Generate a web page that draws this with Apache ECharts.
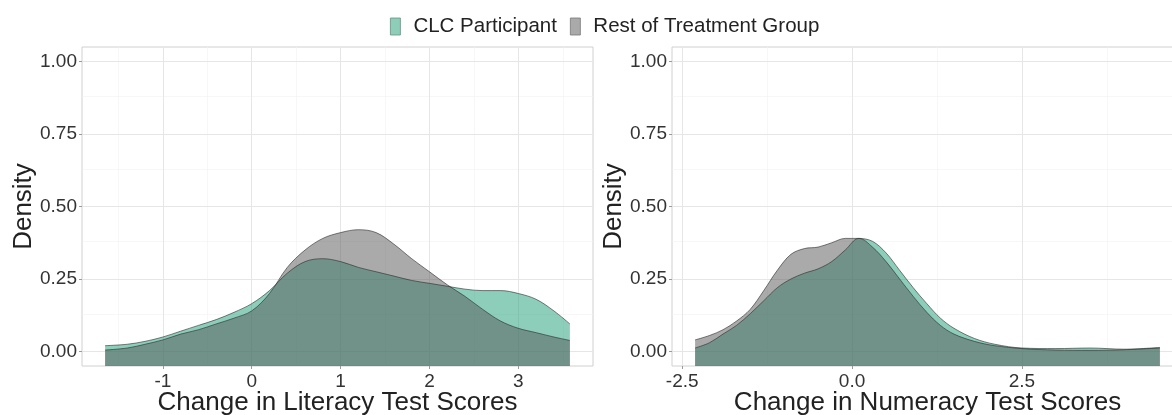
<!DOCTYPE html>
<html>
<head>
<meta charset="utf-8">
<script src="https://cdn.jsdelivr.net/npm/echarts@6/dist/echarts.min.js"></script>
<style>
html,body{margin:0;padding:0;background:#fff;}
#chart{width:1172px;height:415px;}
</style>
</head>
<body>
<div id="chart"></div>
<script>
// ---- Data ----
const seriesNames = ['CLC Participant', 'Rest of Treatment Group'];

// Literacy panel
const litX = [-1.65, -1.4, -1.2, -1.0, -0.8, -0.6, -0.4, -0.2, 0.0, 0.2, 0.4, 0.6, 0.8, 1.0, 1.2, 1.4, 1.6, 1.8, 2.0, 2.2, 2.4, 2.6, 2.8, 3.0, 3.2, 3.4, 3.58];
const litCLC = [0.02, 0.025, 0.035, 0.05, 0.07, 0.09, 0.11, 0.135, 0.165, 0.21, 0.27, 0.31, 0.32, 0.31, 0.29, 0.275, 0.26, 0.245, 0.235, 0.225, 0.215, 0.21, 0.21, 0.2, 0.18, 0.14, 0.095];
const litRest = [0.005, 0.012, 0.025, 0.04, 0.06, 0.075, 0.095, 0.115, 0.14, 0.2, 0.29, 0.35, 0.39, 0.41, 0.42, 0.41, 0.37, 0.32, 0.275, 0.23, 0.19, 0.145, 0.105, 0.08, 0.065, 0.05, 0.038];

// Numeracy panel
const numX = [-2.31, -2.1, -1.9, -1.7, -1.5, -1.3, -1.1, -0.9, -0.7, -0.5, -0.3, -0.1, 0.1, 0.3, 0.5, 0.7, 0.9, 1.1, 1.3, 1.5, 1.8, 2.1, 2.5, 3.0, 3.5, 4.0, 4.53];
const numCLC = [0.012, 0.03, 0.06, 0.09, 0.13, 0.175, 0.22, 0.25, 0.27, 0.285, 0.31, 0.35, 0.39, 0.38, 0.34, 0.28, 0.22, 0.165, 0.115, 0.08, 0.045, 0.025, 0.012, 0.01, 0.012, 0.008, 0.014];
const numRest = [0.04, 0.055, 0.075, 0.105, 0.145, 0.21, 0.28, 0.335, 0.355, 0.36, 0.375, 0.39, 0.39, 0.36, 0.31, 0.25, 0.19, 0.135, 0.09, 0.06, 0.035, 0.02, 0.01, 0.005, 0.004, 0.006, 0.012];

// Tick labels / breaks
const yTicks = [0, 0.25, 0.5, 0.75, 1.0];
const yMinor = [0.125, 0.375, 0.625, 0.875];
const litTicks = [-1, 0, 1, 2, 3];
const litMinor = [-1.5, -0.5, 0.5, 1.5, 2.5, 3.5];
const numTicks = [-2.5, 0, 2.5];
const numMinor = [-1.25, 1.25, 3.75];

const xTitles = ['Change in Literacy Test Scores', 'Change in Numeracy Test Scores'];
const yTitle = 'Density';

// ---- Styling ----
const FONT = "'Liberation Sans', Arial, Helvetica, sans-serif";
const clcFill = 'rgba(27,158,119,0.5)';
const restFill = 'rgba(85,85,85,0.5)';
const clcKey = '#8dceb9';
const restKey = '#aaaaaa';
const outline = 'rgba(40,40,40,0.75)';

const zip = (xs, ys) => xs.map((x, i) => [x, ys[i]]);

function gridSeries(idx, xMajor, xMinor) {
  const major = xMajor.map(v => ({xAxis: v})).concat(yTicks.map(v => ({yAxis: v})));
  const minor = xMinor.map(v => ({xAxis: v})).concat(yMinor.map(v => ({yAxis: v})));
  return [
    {type: 'line', xAxisIndex: idx, yAxisIndex: idx, data: [], z: 0, silent: true,
     markLine: {silent: true, z: 0, zlevel: 0, symbol: 'none', animation: false, label: {show: false},
       lineStyle: {color: '#f2f2f2', width: 0.6, type: 'solid'}, data: minor}},
    {type: 'line', xAxisIndex: idx, yAxisIndex: idx, data: [], z: 0, silent: true,
     markLine: {silent: true, z: 0, zlevel: 0, symbol: 'none', animation: false, label: {show: false},
       lineStyle: {color: '#e6e6e6', width: 1, type: 'solid'}, data: major}}
  ];
}

function densitySeries(idx, name, xs, ys, fill) {
  return {
    type: 'line', name: name, xAxisIndex: idx, yAxisIndex: idx,
    data: zip(xs, ys), smooth: 0.35, showSymbol: false, symbol: 'none', z: 3,
    lineStyle: {color: outline, width: 0.8},
    itemStyle: {color: fill},
    areaStyle: {color: fill, opacity: 1, origin: 'start'},
    animation: false
  };
}

function xAxisDef(idx, min, max, ticks, title) {
  return {
    type: 'value', gridIndex: idx, min: min, max: max, position: 'bottom',
    axisLine: {show: false, onZero: false},
    splitLine: {show: false},
    axisTick: {show: true, length: 3, customValues: ticks, lineStyle: {color: '#9a9a9a'}},
    axisLabel: {customValues: ticks, color: '#333', fontSize: 19, fontFamily: FONT, margin: 6,
      formatter: v => (idx === 1 ? v.toFixed(1) : String(v))},
    name: title, nameLocation: 'middle', nameGap: 23, nameMoveOverlap: false,
    nameTextStyle: {color: '#222', fontSize: 26, fontFamily: FONT, verticalAlign: 'top', lineHeight: 28}
  };
}

function yAxisDef(idx) {
  return {
    type: 'value', gridIndex: idx, min: -0.05, max: 1.05, position: 'left',
    axisLine: {show: false, onZero: false},
    splitLine: {show: false},
    axisTick: {show: true, length: 3, customValues: yTicks, lineStyle: {color: '#9a9a9a'}},
    axisLabel: {customValues: yTicks, color: '#333', fontSize: 19, fontFamily: FONT, margin: 5,
      formatter: v => v.toFixed(2)},
    name: yTitle, nameLocation: 'middle', nameGap: 45, nameRotate: 90, nameMoveOverlap: false,
    nameTextStyle: {color: '#222', fontSize: 26, fontFamily: FONT}
  };
}

const chart = echarts.init(document.getElementById('chart'), null, {renderer: 'canvas'});
chart.setOption({
  backgroundColor: '#ffffff',
  animation: false,
  legend: {
    left: 385, top: 11, itemWidth: 10, itemHeight: 17, itemGap: 13,
    icon: 'rect',
    textStyle: {fontSize: 20.5, fontFamily: FONT, color: '#222', padding: [0, 0, 0, 8]},
    data: [
      {name: seriesNames[0], itemStyle: {color: clcKey, borderColor: '#6a8f80', borderWidth: 0.8}},
      {name: seriesNames[1], itemStyle: {color: restKey, borderColor: '#777', borderWidth: 0.8}}
    ]
  },
  grid: [
    {left: 82, top: 47, width: 511, height: 319, containLabel: false, outerBoundsMode: 'none',
     show: true, borderColor: '#d0d0d0', borderWidth: 1, backgroundColor: 'transparent'},
    {left: 672, top: 47, width: 511, height: 319, containLabel: false, outerBoundsMode: 'none',
     show: true, borderColor: '#d0d0d0', borderWidth: 1, backgroundColor: 'transparent'}
  ],
  xAxis: [
    xAxisDef(0, -1.91, 3.84, litTicks, xTitles[0]),
    xAxisDef(1, -2.65, 4.87, numTicks, xTitles[1])
  ],
  yAxis: [yAxisDef(0), yAxisDef(1)],
  series: [
    ...gridSeries(0, litTicks, litMinor),
    ...gridSeries(1, numTicks, numMinor),
    densitySeries(0, seriesNames[0], litX, litCLC, clcFill),
    densitySeries(0, seriesNames[1], litX, litRest, restFill),
    densitySeries(1, seriesNames[0], numX, numCLC, clcFill),
    densitySeries(1, seriesNames[1], numX, numRest, restFill)
  ]
});
</script>
</body>
</html>
